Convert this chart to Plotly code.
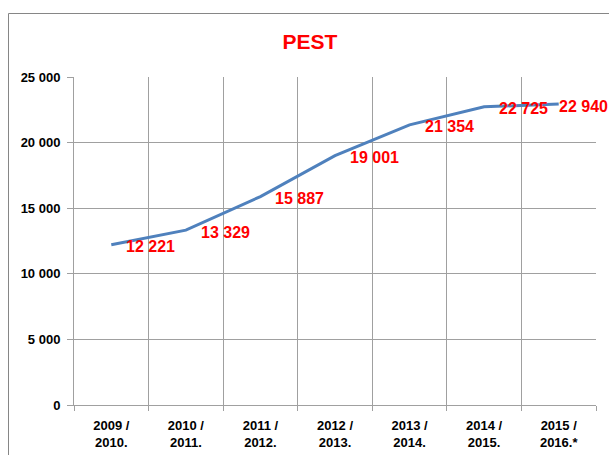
import plotly.graph_objects as go

categories = ["2009 /<br>2010.", "2010 /<br>2011.", "2011 /<br>2012.", "2012 /<br>2013.",
              "2013 /<br>2014.", "2014 /<br>2015.", "2015 /<br>2016.*"]
values = [12221, 13329, 15887, 19001, 21354, 22725, 22940]
value_labels = ["12 221", "13 329", "15 887", "19 001", "21 354", "22 725", "22 940"]
y_tickvals = [0, 5000, 10000, 15000, 20000, 25000]
y_ticktext = ["0", "5 000", "10 000", "15 000", "20 000", "25 000"]
title_text = "PEST"

fig = go.Figure()
fig.add_trace(go.Scatter(
    x=categories, y=values, mode="lines",
    line=dict(color="#4F81BD", width=3),
    hoverinfo="skip", showlegend=False,
))

label_xshift = [13, 13, 13, 13, 13, 13, -2]
for c, v, t, xs in zip(categories, values, value_labels, label_xshift):
    fig.add_annotation(
        x=c, y=v, text=t, showarrow=False, xanchor="left", yanchor="middle",
        xshift=xs, yshift=-2,
        font=dict(family="Liberation Sans, Arial, sans-serif", size=16, color="#FF0000", weight="bold"),
    )

grid = "#A0A0A0"
fig.update_layout(
    width=609, height=455,
    margin=dict(l=74, r=13, t=77, b=50, autoexpand=False),
    paper_bgcolor="white", plot_bgcolor="white",
    title=dict(text="<b>" + title_text + "</b>", x=0.509, xanchor="center", y=0.908, yanchor="middle",
               font=dict(family="Liberation Sans Narrow, Arial Narrow, Liberation Sans, sans-serif",
                         size=21, color="#FF0000")),
    xaxis=dict(
        type="category", range=[-0.5, 6.5], tickson="boundaries", automargin=False,
        showgrid=True, gridcolor=grid, gridwidth=1,
        showline=True, linecolor=grid, linewidth=1, mirror=False,
        ticks="outside", ticklen=5, tickcolor=grid, ticklabelstandoff=8,
        tickfont=dict(family="Liberation Sans, Arial, sans-serif", size=13, color="black", weight="bold"),
        fixedrange=True,
    ),
    yaxis=dict(
        range=[0, 25000], tickvals=y_tickvals, ticktext=y_ticktext, automargin=False,
        showgrid=True, gridcolor=grid, gridwidth=1, zeroline=False,
        showline=True, linecolor=grid, linewidth=1,
        ticks="outside", ticklen=6, tickcolor=grid, ticklabelstandoff=4,
        tickfont=dict(family="Liberation Sans, Arial, sans-serif", size=13, color="black", weight="bold"),
        fixedrange=True,
    ),
)

# outer chart border (right and bottom edges fall outside the picture)
fig.add_shape(type="rect", xref="paper", yref="paper",
              x0=(8.5 - 74) / 522, x1=1.1, y0=-0.2, y1=(405 - 13.5) / 328,
              line=dict(color="#868686", width=1), fillcolor="rgba(0,0,0,0)", layer="below")

fig.write_html("out.html", config={"displayModeBar": False},
               post_script="document.body.style.margin='0';")
